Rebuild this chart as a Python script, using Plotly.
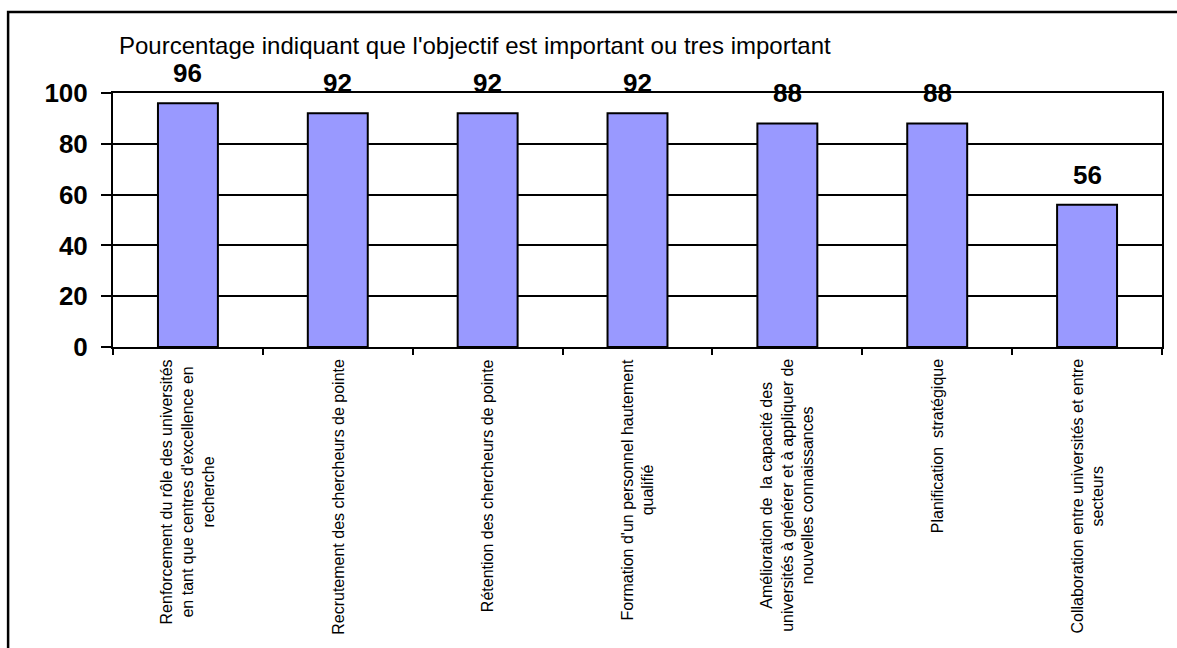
import plotly.graph_objects as go

categories = [
    "Renforcement du rôle des universités<br>en tant que centres d'excellence en<br>recherche",
    "Recrutement des chercheurs de pointe",
    "Rétention des chercheurs de pointe",
    "Formation d'un personnel hautement<br>qualifié",
    "Amélioration de  la capacité des<br>universités à générer et à appliquer de<br>nouvelles connaissances",
    "Planification  stratégique",
    "Collaboration entre universités et entre<br>secteurs",
]
values = [96, 92, 92, 92, 88, 88, 56]
y_ticks = [0, 20, 40, 60, 80, 100]
subtitle = "Pourcentage indiquant que l'objectif est important ou tres important"

FONT = "Arial, Liberation Sans, sans-serif"

fig = go.Figure()
fig.add_trace(go.Bar(
    x=categories, y=values, width=0.4,
    marker=dict(color="#9999FF", line=dict(color="black", width=2)),
    hoverinfo="skip",
))

for c, v in zip(categories, values):
    fig.add_annotation(x=c, y=v, text="<b>%d</b>" % v, showarrow=False,
                       xanchor="center", yanchor="bottom", yshift=13,
                       font=dict(family=FONT, size=26, color="black"))
    fig.add_annotation(x=c, y=0, text=c, showarrow=False, textangle=-90,
                       align="center", xanchor="center", yanchor="top", yshift=-10,
                       font=dict(family=FONT, size=16, color="black"))

fig.add_annotation(xref="paper", yref="paper", x=0.004, y=1.25, xanchor="left", yanchor="top",
                   text=subtitle, showarrow=False,
                   font=dict(family=FONT, size=24, color="black"))

# outer frame
fig.add_shape(type="rect", xref="paper", yref="paper",
              x0=-0.1, x1=1.2, y0=-1.5, y1=1.319,
              line=dict(color="black", width=2.5), fillcolor="rgba(0,0,0,0)", layer="below")

fig.update_layout(
    width=1177, height=648,
    margin=dict(l=113, r=15, t=93, b=301),
    paper_bgcolor="white", plot_bgcolor="white",
    showlegend=False,
    bargap=0.6,
    font=dict(family=FONT, color="black"),
)
fig.update_xaxes(
    showticklabels=False,
    showline=True, linecolor="black", linewidth=2, mirror=True,
    ticks="outside", ticklen=6, tickwidth=2, tickcolor="black",
    tickson="boundaries", showgrid=False,
)
fig.update_yaxes(
    range=[0, 100], tickvals=y_ticks, ticktext=["<b>%d</b>" % t for t in y_ticks],
    tickfont=dict(family=FONT, size=26, color="black"),
    ticklabelstandoff=8,
    showline=True, linecolor="black", linewidth=2, mirror=True,
    ticks="outside", ticklen=10, tickwidth=2, tickcolor="black",
    showgrid=True, gridcolor="black", gridwidth=2, zeroline=False,
)

fig.write_html("out.html")
